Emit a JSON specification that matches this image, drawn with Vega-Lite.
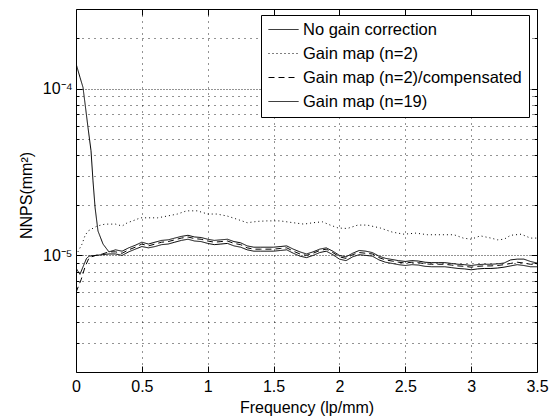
{
  "$schema": "https://vega.github.io/schema/vega-lite/v6.json",
  "width": 461,
  "height": 363,
  "autosize": {"type": "none"},
  "padding": {"left": 76, "top": 9, "right": 17, "bottom": 47},
  "background": "white",
  "config": {
    "view": {"stroke": "black", "strokeWidth": 1},
    "font": "Liberation Sans",
    "axis": {
      "labelFont": "Liberation Sans", "labelFontSize": 16, "labelColor": "black",
      "titleFont": "Liberation Sans", "titleFontSize": 16, "titleFontWeight": "normal", "titleColor": "black",
      "tickColor": "black", "tickWidth": 1, "domain": false,
      "gridColor": "black", "gridOpacity": 0.85, "gridWidth": 1,
      "labelFlush": false, "labelOverlap": false, "labelBound": false
    }
  },
  "datasets": {
    "nnps": [
      {"s": "No gain correction", "f": 0, "v": 1.414e-4},
      {"s": "No gain correction", "f": 0.03, "v": 1.17e-4},
      {"s": "No gain correction", "f": 0.053, "v": 1.018e-4},
      {"s": "No gain correction", "f": 0.068, "v": 8.2e-5},
      {"s": "No gain correction", "f": 0.091, "v": 5.85e-5},
      {"s": "No gain correction", "f": 0.114, "v": 4.24e-5},
      {"s": "No gain correction", "f": 0.129, "v": 2.8e-5},
      {"s": "No gain correction", "f": 0.145, "v": 1.93e-5},
      {"s": "No gain correction", "f": 0.167, "v": 1.4e-5},
      {"s": "No gain correction", "f": 0.205, "v": 1.17e-5},
      {"s": "No gain correction", "f": 0.25, "v": 1.05e-5},
      {"s": "No gain correction", "f": 0.3, "v": 1.08e-5},
      {"s": "No gain correction", "f": 0.35, "v": 1.06e-5},
      {"s": "No gain correction", "f": 0.4, "v": 1.11e-5},
      {"s": "No gain correction", "f": 0.45, "v": 1.15e-5},
      {"s": "No gain correction", "f": 0.5, "v": 1.2e-5},
      {"s": "No gain correction", "f": 0.55, "v": 1.17e-5},
      {"s": "No gain correction", "f": 0.6, "v": 1.2e-5},
      {"s": "No gain correction", "f": 0.65, "v": 1.23e-5},
      {"s": "No gain correction", "f": 0.7, "v": 1.24e-5},
      {"s": "No gain correction", "f": 0.75, "v": 1.27e-5},
      {"s": "No gain correction", "f": 0.8, "v": 1.3e-5},
      {"s": "No gain correction", "f": 0.85, "v": 1.32e-5},
      {"s": "No gain correction", "f": 0.9, "v": 1.29e-5},
      {"s": "No gain correction", "f": 0.95, "v": 1.28e-5},
      {"s": "No gain correction", "f": 1.0, "v": 1.25e-5},
      {"s": "No gain correction", "f": 1.05, "v": 1.23e-5},
      {"s": "No gain correction", "f": 1.1, "v": 1.24e-5},
      {"s": "No gain correction", "f": 1.15, "v": 1.25e-5},
      {"s": "No gain correction", "f": 1.2, "v": 1.21e-5},
      {"s": "No gain correction", "f": 1.25, "v": 1.19e-5},
      {"s": "No gain correction", "f": 1.3, "v": 1.14e-5},
      {"s": "No gain correction", "f": 1.35, "v": 1.12e-5},
      {"s": "No gain correction", "f": 1.4, "v": 1.12e-5},
      {"s": "No gain correction", "f": 1.45, "v": 1.12e-5},
      {"s": "No gain correction", "f": 1.5, "v": 1.12e-5},
      {"s": "No gain correction", "f": 1.55, "v": 1.13e-5},
      {"s": "No gain correction", "f": 1.6, "v": 1.14e-5},
      {"s": "No gain correction", "f": 1.65, "v": 1.09e-5},
      {"s": "No gain correction", "f": 1.7, "v": 1.05e-5},
      {"s": "No gain correction", "f": 1.75, "v": 1.02e-5},
      {"s": "No gain correction", "f": 1.8, "v": 1.05e-5},
      {"s": "No gain correction", "f": 1.85, "v": 1.09e-5},
      {"s": "No gain correction", "f": 1.9, "v": 1.11e-5},
      {"s": "No gain correction", "f": 1.95, "v": 1.06e-5},
      {"s": "No gain correction", "f": 2.0, "v": 1.0e-5},
      {"s": "No gain correction", "f": 2.05, "v": 0.98e-5},
      {"s": "No gain correction", "f": 2.1, "v": 1.03e-5},
      {"s": "No gain correction", "f": 2.15, "v": 1.07e-5},
      {"s": "No gain correction", "f": 2.2, "v": 1.06e-5},
      {"s": "No gain correction", "f": 2.25, "v": 1.04e-5},
      {"s": "No gain correction", "f": 2.3, "v": 0.99e-5},
      {"s": "No gain correction", "f": 2.35, "v": 0.96e-5},
      {"s": "No gain correction", "f": 2.4, "v": 0.945e-5},
      {"s": "No gain correction", "f": 2.45, "v": 0.93e-5},
      {"s": "No gain correction", "f": 2.5, "v": 0.92e-5},
      {"s": "No gain correction", "f": 2.55, "v": 0.93e-5},
      {"s": "No gain correction", "f": 2.6, "v": 0.925e-5},
      {"s": "No gain correction", "f": 2.65, "v": 0.91e-5},
      {"s": "No gain correction", "f": 2.7, "v": 0.905e-5},
      {"s": "No gain correction", "f": 2.75, "v": 0.905e-5},
      {"s": "No gain correction", "f": 2.8, "v": 0.905e-5},
      {"s": "No gain correction", "f": 2.85, "v": 0.895e-5},
      {"s": "No gain correction", "f": 2.9, "v": 0.885e-5},
      {"s": "No gain correction", "f": 2.95, "v": 0.88e-5},
      {"s": "No gain correction", "f": 3.0, "v": 0.87e-5},
      {"s": "No gain correction", "f": 3.05, "v": 0.88e-5},
      {"s": "No gain correction", "f": 3.1, "v": 0.885e-5},
      {"s": "No gain correction", "f": 3.15, "v": 0.885e-5},
      {"s": "No gain correction", "f": 3.2, "v": 0.89e-5},
      {"s": "No gain correction", "f": 3.25, "v": 0.9e-5},
      {"s": "No gain correction", "f": 3.3, "v": 0.94e-5},
      {"s": "No gain correction", "f": 3.35, "v": 0.95e-5},
      {"s": "No gain correction", "f": 3.4, "v": 0.95e-5},
      {"s": "No gain correction", "f": 3.45, "v": 0.92e-5},
      {"s": "No gain correction", "f": 3.5, "v": 0.9e-5},

      {"s": "Gain map (n=2)", "f": 0, "v": 1.0e-5},
      {"s": "Gain map (n=2)", "f": 0.046, "v": 1.17e-5},
      {"s": "Gain map (n=2)", "f": 0.068, "v": 1.31e-5},
      {"s": "Gain map (n=2)", "f": 0.091, "v": 1.4e-5},
      {"s": "Gain map (n=2)", "f": 0.16, "v": 1.5e-5},
      {"s": "Gain map (n=2)", "f": 0.22, "v": 1.54e-5},
      {"s": "Gain map (n=2)", "f": 0.3, "v": 1.54e-5},
      {"s": "Gain map (n=2)", "f": 0.35, "v": 1.5e-5},
      {"s": "Gain map (n=2)", "f": 0.39, "v": 1.57e-5},
      {"s": "Gain map (n=2)", "f": 0.43, "v": 1.61e-5},
      {"s": "Gain map (n=2)", "f": 0.49, "v": 1.68e-5},
      {"s": "Gain map (n=2)", "f": 0.54, "v": 1.68e-5},
      {"s": "Gain map (n=2)", "f": 0.62, "v": 1.68e-5},
      {"s": "Gain map (n=2)", "f": 0.69, "v": 1.72e-5},
      {"s": "Gain map (n=2)", "f": 0.77, "v": 1.77e-5},
      {"s": "Gain map (n=2)", "f": 0.84, "v": 1.85e-5},
      {"s": "Gain map (n=2)", "f": 0.92, "v": 1.85e-5},
      {"s": "Gain map (n=2)", "f": 1.0, "v": 1.77e-5},
      {"s": "Gain map (n=2)", "f": 1.07, "v": 1.77e-5},
      {"s": "Gain map (n=2)", "f": 1.15, "v": 1.72e-5},
      {"s": "Gain map (n=2)", "f": 1.22, "v": 1.65e-5},
      {"s": "Gain map (n=2)", "f": 1.3, "v": 1.57e-5},
      {"s": "Gain map (n=2)", "f": 1.38, "v": 1.6e-5},
      {"s": "Gain map (n=2)", "f": 1.45, "v": 1.61e-5},
      {"s": "Gain map (n=2)", "f": 1.55, "v": 1.61e-5},
      {"s": "Gain map (n=2)", "f": 1.65, "v": 1.57e-5},
      {"s": "Gain map (n=2)", "f": 1.73, "v": 1.54e-5},
      {"s": "Gain map (n=2)", "f": 1.8, "v": 1.57e-5},
      {"s": "Gain map (n=2)", "f": 1.87, "v": 1.59e-5},
      {"s": "Gain map (n=2)", "f": 1.93, "v": 1.52e-5},
      {"s": "Gain map (n=2)", "f": 1.99, "v": 1.46e-5},
      {"s": "Gain map (n=2)", "f": 2.06, "v": 1.45e-5},
      {"s": "Gain map (n=2)", "f": 2.14, "v": 1.52e-5},
      {"s": "Gain map (n=2)", "f": 2.21, "v": 1.52e-5},
      {"s": "Gain map (n=2)", "f": 2.31, "v": 1.46e-5},
      {"s": "Gain map (n=2)", "f": 2.4, "v": 1.38e-5},
      {"s": "Gain map (n=2)", "f": 2.49, "v": 1.34e-5},
      {"s": "Gain map (n=2)", "f": 2.58, "v": 1.36e-5},
      {"s": "Gain map (n=2)", "f": 2.67, "v": 1.33e-5},
      {"s": "Gain map (n=2)", "f": 2.77, "v": 1.33e-5},
      {"s": "Gain map (n=2)", "f": 2.87, "v": 1.33e-5},
      {"s": "Gain map (n=2)", "f": 2.94, "v": 1.27e-5},
      {"s": "Gain map (n=2)", "f": 3.0, "v": 1.25e-5},
      {"s": "Gain map (n=2)", "f": 3.07, "v": 1.31e-5},
      {"s": "Gain map (n=2)", "f": 3.15, "v": 1.27e-5},
      {"s": "Gain map (n=2)", "f": 3.2, "v": 1.24e-5},
      {"s": "Gain map (n=2)", "f": 3.25, "v": 1.25e-5},
      {"s": "Gain map (n=2)", "f": 3.3, "v": 1.32e-5},
      {"s": "Gain map (n=2)", "f": 3.38, "v": 1.34e-5},
      {"s": "Gain map (n=2)", "f": 3.45, "v": 1.27e-5},
      {"s": "Gain map (n=2)", "f": 3.5, "v": 1.27e-5},

      {"s": "Gain map (n=2)/compensated", "f": 0, "v": 0.6e-5},
      {"s": "Gain map (n=2)/compensated", "f": 0.04, "v": 0.72e-5},
      {"s": "Gain map (n=2)/compensated", "f": 0.07, "v": 0.86e-5},
      {"s": "Gain map (n=2)/compensated", "f": 0.1, "v": 0.97e-5},
      {"s": "Gain map (n=2)/compensated", "f": 0.15, "v": 1.0e-5},
      {"s": "Gain map (n=2)/compensated", "f": 0.2, "v": 1.02e-5},
      {"s": "Gain map (n=2)/compensated", "f": 0.25, "v": 1.05e-5},
      {"s": "Gain map (n=2)/compensated", "f": 0.3, "v": 1.05e-5},
      {"s": "Gain map (n=2)/compensated", "f": 0.35, "v": 1.03e-5},
      {"s": "Gain map (n=2)/compensated", "f": 0.4, "v": 1.08e-5},
      {"s": "Gain map (n=2)/compensated", "f": 0.45, "v": 1.12e-5},
      {"s": "Gain map (n=2)/compensated", "f": 0.5, "v": 1.17e-5},
      {"s": "Gain map (n=2)/compensated", "f": 0.55, "v": 1.14e-5},
      {"s": "Gain map (n=2)/compensated", "f": 0.6, "v": 1.17e-5},
      {"s": "Gain map (n=2)/compensated", "f": 0.65, "v": 1.2e-5},
      {"s": "Gain map (n=2)/compensated", "f": 0.7, "v": 1.21e-5},
      {"s": "Gain map (n=2)/compensated", "f": 0.75, "v": 1.24e-5},
      {"s": "Gain map (n=2)/compensated", "f": 0.8, "v": 1.27e-5},
      {"s": "Gain map (n=2)/compensated", "f": 0.85, "v": 1.29e-5},
      {"s": "Gain map (n=2)/compensated", "f": 0.9, "v": 1.26e-5},
      {"s": "Gain map (n=2)/compensated", "f": 0.95, "v": 1.25e-5},
      {"s": "Gain map (n=2)/compensated", "f": 1.0, "v": 1.22e-5},
      {"s": "Gain map (n=2)/compensated", "f": 1.05, "v": 1.2e-5},
      {"s": "Gain map (n=2)/compensated", "f": 1.1, "v": 1.21e-5},
      {"s": "Gain map (n=2)/compensated", "f": 1.15, "v": 1.22e-5},
      {"s": "Gain map (n=2)/compensated", "f": 1.2, "v": 1.18e-5},
      {"s": "Gain map (n=2)/compensated", "f": 1.25, "v": 1.16e-5},
      {"s": "Gain map (n=2)/compensated", "f": 1.3, "v": 1.11e-5},
      {"s": "Gain map (n=2)/compensated", "f": 1.35, "v": 1.09e-5},
      {"s": "Gain map (n=2)/compensated", "f": 1.4, "v": 1.09e-5},
      {"s": "Gain map (n=2)/compensated", "f": 1.45, "v": 1.09e-5},
      {"s": "Gain map (n=2)/compensated", "f": 1.5, "v": 1.09e-5},
      {"s": "Gain map (n=2)/compensated", "f": 1.55, "v": 1.1e-5},
      {"s": "Gain map (n=2)/compensated", "f": 1.6, "v": 1.11e-5},
      {"s": "Gain map (n=2)/compensated", "f": 1.65, "v": 1.06e-5},
      {"s": "Gain map (n=2)/compensated", "f": 1.7, "v": 1.02e-5},
      {"s": "Gain map (n=2)/compensated", "f": 1.75, "v": 1.0e-5},
      {"s": "Gain map (n=2)/compensated", "f": 1.8, "v": 1.03e-5},
      {"s": "Gain map (n=2)/compensated", "f": 1.85, "v": 1.07e-5},
      {"s": "Gain map (n=2)/compensated", "f": 1.9, "v": 1.09e-5},
      {"s": "Gain map (n=2)/compensated", "f": 1.95, "v": 1.04e-5},
      {"s": "Gain map (n=2)/compensated", "f": 2.0, "v": 0.98e-5},
      {"s": "Gain map (n=2)/compensated", "f": 2.05, "v": 0.96e-5},
      {"s": "Gain map (n=2)/compensated", "f": 2.1, "v": 1.01e-5},
      {"s": "Gain map (n=2)/compensated", "f": 2.15, "v": 1.04e-5},
      {"s": "Gain map (n=2)/compensated", "f": 2.2, "v": 1.03e-5},
      {"s": "Gain map (n=2)/compensated", "f": 2.25, "v": 1.02e-5},
      {"s": "Gain map (n=2)/compensated", "f": 2.3, "v": 0.97e-5},
      {"s": "Gain map (n=2)/compensated", "f": 2.35, "v": 0.94e-5},
      {"s": "Gain map (n=2)/compensated", "f": 2.4, "v": 0.925e-5},
      {"s": "Gain map (n=2)/compensated", "f": 2.45, "v": 0.91e-5},
      {"s": "Gain map (n=2)/compensated", "f": 2.5, "v": 0.9e-5},
      {"s": "Gain map (n=2)/compensated", "f": 2.55, "v": 0.91e-5},
      {"s": "Gain map (n=2)/compensated", "f": 2.6, "v": 0.905e-5},
      {"s": "Gain map (n=2)/compensated", "f": 2.65, "v": 0.89e-5},
      {"s": "Gain map (n=2)/compensated", "f": 2.7, "v": 0.885e-5},
      {"s": "Gain map (n=2)/compensated", "f": 2.75, "v": 0.885e-5},
      {"s": "Gain map (n=2)/compensated", "f": 2.8, "v": 0.885e-5},
      {"s": "Gain map (n=2)/compensated", "f": 2.85, "v": 0.875e-5},
      {"s": "Gain map (n=2)/compensated", "f": 2.9, "v": 0.865e-5},
      {"s": "Gain map (n=2)/compensated", "f": 2.95, "v": 0.86e-5},
      {"s": "Gain map (n=2)/compensated", "f": 3.0, "v": 0.85e-5},
      {"s": "Gain map (n=2)/compensated", "f": 3.05, "v": 0.86e-5},
      {"s": "Gain map (n=2)/compensated", "f": 3.1, "v": 0.865e-5},
      {"s": "Gain map (n=2)/compensated", "f": 3.15, "v": 0.865e-5},
      {"s": "Gain map (n=2)/compensated", "f": 3.2, "v": 0.87e-5},
      {"s": "Gain map (n=2)/compensated", "f": 3.25, "v": 0.88e-5},
      {"s": "Gain map (n=2)/compensated", "f": 3.3, "v": 0.895e-5},
      {"s": "Gain map (n=2)/compensated", "f": 3.35, "v": 0.91e-5},
      {"s": "Gain map (n=2)/compensated", "f": 3.4, "v": 0.9e-5},
      {"s": "Gain map (n=2)/compensated", "f": 3.45, "v": 0.885e-5},
      {"s": "Gain map (n=2)/compensated", "f": 3.5, "v": 0.885e-5},

      {"s": "Gain map (n=19)", "f": 0, "v": 0.84e-5},
      {"s": "Gain map (n=19)", "f": 0.03, "v": 0.77e-5},
      {"s": "Gain map (n=19)", "f": 0.06, "v": 0.88e-5},
      {"s": "Gain map (n=19)", "f": 0.08, "v": 0.96e-5},
      {"s": "Gain map (n=19)", "f": 0.1, "v": 0.99e-5},
      {"s": "Gain map (n=19)", "f": 0.15, "v": 1.0e-5},
      {"s": "Gain map (n=19)", "f": 0.2, "v": 1.01e-5},
      {"s": "Gain map (n=19)", "f": 0.25, "v": 1.02e-5},
      {"s": "Gain map (n=19)", "f": 0.3, "v": 1.02e-5},
      {"s": "Gain map (n=19)", "f": 0.35, "v": 1.0e-5},
      {"s": "Gain map (n=19)", "f": 0.4, "v": 1.05e-5},
      {"s": "Gain map (n=19)", "f": 0.45, "v": 1.09e-5},
      {"s": "Gain map (n=19)", "f": 0.5, "v": 1.13e-5},
      {"s": "Gain map (n=19)", "f": 0.55, "v": 1.11e-5},
      {"s": "Gain map (n=19)", "f": 0.6, "v": 1.13e-5},
      {"s": "Gain map (n=19)", "f": 0.65, "v": 1.16e-5},
      {"s": "Gain map (n=19)", "f": 0.7, "v": 1.17e-5},
      {"s": "Gain map (n=19)", "f": 0.75, "v": 1.2e-5},
      {"s": "Gain map (n=19)", "f": 0.8, "v": 1.23e-5},
      {"s": "Gain map (n=19)", "f": 0.85, "v": 1.25e-5},
      {"s": "Gain map (n=19)", "f": 0.9, "v": 1.22e-5},
      {"s": "Gain map (n=19)", "f": 0.95, "v": 1.21e-5},
      {"s": "Gain map (n=19)", "f": 1.0, "v": 1.18e-5},
      {"s": "Gain map (n=19)", "f": 1.05, "v": 1.16e-5},
      {"s": "Gain map (n=19)", "f": 1.1, "v": 1.17e-5},
      {"s": "Gain map (n=19)", "f": 1.15, "v": 1.18e-5},
      {"s": "Gain map (n=19)", "f": 1.2, "v": 1.14e-5},
      {"s": "Gain map (n=19)", "f": 1.25, "v": 1.12e-5},
      {"s": "Gain map (n=19)", "f": 1.3, "v": 1.08e-5},
      {"s": "Gain map (n=19)", "f": 1.35, "v": 1.06e-5},
      {"s": "Gain map (n=19)", "f": 1.4, "v": 1.06e-5},
      {"s": "Gain map (n=19)", "f": 1.45, "v": 1.06e-5},
      {"s": "Gain map (n=19)", "f": 1.5, "v": 1.06e-5},
      {"s": "Gain map (n=19)", "f": 1.55, "v": 1.07e-5},
      {"s": "Gain map (n=19)", "f": 1.6, "v": 1.08e-5},
      {"s": "Gain map (n=19)", "f": 1.65, "v": 1.03e-5},
      {"s": "Gain map (n=19)", "f": 1.7, "v": 0.99e-5},
      {"s": "Gain map (n=19)", "f": 1.75, "v": 0.97e-5},
      {"s": "Gain map (n=19)", "f": 1.8, "v": 1.0e-5},
      {"s": "Gain map (n=19)", "f": 1.85, "v": 1.04e-5},
      {"s": "Gain map (n=19)", "f": 1.9, "v": 1.06e-5},
      {"s": "Gain map (n=19)", "f": 1.95, "v": 1.01e-5},
      {"s": "Gain map (n=19)", "f": 2.0, "v": 0.95e-5},
      {"s": "Gain map (n=19)", "f": 2.05, "v": 0.93e-5},
      {"s": "Gain map (n=19)", "f": 2.1, "v": 0.98e-5},
      {"s": "Gain map (n=19)", "f": 2.15, "v": 1.01e-5},
      {"s": "Gain map (n=19)", "f": 2.2, "v": 1.0e-5},
      {"s": "Gain map (n=19)", "f": 2.25, "v": 0.99e-5},
      {"s": "Gain map (n=19)", "f": 2.3, "v": 0.94e-5},
      {"s": "Gain map (n=19)", "f": 2.35, "v": 0.91e-5},
      {"s": "Gain map (n=19)", "f": 2.4, "v": 0.895e-5},
      {"s": "Gain map (n=19)", "f": 2.45, "v": 0.88e-5},
      {"s": "Gain map (n=19)", "f": 2.5, "v": 0.87e-5},
      {"s": "Gain map (n=19)", "f": 2.55, "v": 0.88e-5},
      {"s": "Gain map (n=19)", "f": 2.6, "v": 0.875e-5},
      {"s": "Gain map (n=19)", "f": 2.65, "v": 0.86e-5},
      {"s": "Gain map (n=19)", "f": 2.7, "v": 0.855e-5},
      {"s": "Gain map (n=19)", "f": 2.75, "v": 0.855e-5},
      {"s": "Gain map (n=19)", "f": 2.8, "v": 0.855e-5},
      {"s": "Gain map (n=19)", "f": 2.85, "v": 0.845e-5},
      {"s": "Gain map (n=19)", "f": 2.9, "v": 0.835e-5},
      {"s": "Gain map (n=19)", "f": 2.95, "v": 0.83e-5},
      {"s": "Gain map (n=19)", "f": 3.0, "v": 0.82e-5},
      {"s": "Gain map (n=19)", "f": 3.05, "v": 0.83e-5},
      {"s": "Gain map (n=19)", "f": 3.1, "v": 0.835e-5},
      {"s": "Gain map (n=19)", "f": 3.15, "v": 0.835e-5},
      {"s": "Gain map (n=19)", "f": 3.2, "v": 0.84e-5},
      {"s": "Gain map (n=19)", "f": 3.25, "v": 0.85e-5},
      {"s": "Gain map (n=19)", "f": 3.3, "v": 0.865e-5},
      {"s": "Gain map (n=19)", "f": 3.35, "v": 0.88e-5},
      {"s": "Gain map (n=19)", "f": 3.4, "v": 0.87e-5},
      {"s": "Gain map (n=19)", "f": 3.45, "v": 0.855e-5},
      {"s": "Gain map (n=19)", "f": 3.5, "v": 0.855e-5}
    ]
  },
  "data": {"name": "nnps"},
  "layer": [
    {
      "mark": {"type": "line", "color": "black", "strokeWidth": 1, "clip": true},
      "encoding": {
        "x": {
          "field": "f", "type": "quantitative",
          "scale": {"domain": [0, 3.5], "nice": false, "zero": false},
          "axis": {
            "orient": "bottom",
            "values": [0, 0.5, 1, 1.5, 2, 2.5, 3, 3.5],
            "labelExpr": "'' + datum.value",
            "tickSize": -6, "labelPadding": 12,
            "grid": true, "gridDash": [1, 5],
            "title": "Frequency (lp/mm)", "titlePadding": 5
          }
        },
        "y": {
          "field": "v", "type": "quantitative",
          "scale": {"type": "log", "domain": [0.000002, 0.0003], "nice": false},
          "axis": {
            "orient": "left",
            "values": [0.000003, 0.000004, 0.000005, 0.000006, 0.000007, 0.000008, 0.000009, 0.00001, 0.00002, 0.00003, 0.00004, 0.00005, 0.00006, 0.00007, 0.00008, 0.00009, 0.0001, 0.0002],
            "labelExpr": "datum.value == 0.00001 ? '10⁻⁵' : (datum.value == 0.0001 ? '10⁻⁴' : '')",
            "tickSize": {"condition": {"test": "datum.value == 0.00001 || datum.value == 0.0001", "value": -6}, "value": -3},
            "labelPadding": 10,
            "grid": true,
            "gridDash": {"condition": {"test": "datum.value == 0.00001 || datum.value == 0.0001", "value": [1, 2]}, "value": [1, 5]},
            "title": "NNPS(mm²)", "titlePadding": 8, "titleY": 186
          }
        },
        "strokeDash": {
          "field": "s", "type": "nominal",
          "scale": {
            "domain": ["No gain correction", "Gain map (n=2)", "Gain map (n=2)/compensated", "Gain map (n=19)"],
            "range": [[1, 0], [1, 3], [6, 4], [1, 0]]
          },
          "legend": {
            "orient": "none", "legendX": 185, "legendY": 6,
            "title": null,
            "symbolType": "stroke", "symbolSize": 900, "symbolStrokeWidth": 1, "symbolStrokeColor": "black",
            "labelFont": "Liberation Sans", "labelFontSize": 16.5, "labelColor": "black", "labelOffset": 4,
            "labelLimit": 400,
            "strokeColor": "black", "fillColor": "white", "padding": 7,
            "rowPadding": 7, "clipHeight": 15
          }
        }
      }
    },
    {
      "mark": {"type": "line", "color": "black", "strokeOpacity": 0},
      "encoding": {
        "x": {
          "field": "f", "type": "quantitative",
          "scale": {"domain": [0, 3.5], "nice": false, "zero": false},
          "axis": {
            "orient": "top",
            "values": [0.5, 1, 1.5, 2, 2.5, 3],
            "labels": false, "tickSize": -6, "grid": false, "title": null
          }
        },
        "y": {
          "field": "v", "type": "quantitative",
          "scale": {"type": "log", "domain": [0.000002, 0.0003], "nice": false},
          "axis": {
            "orient": "right",
            "values": [0.000003, 0.000004, 0.000005, 0.000006, 0.000007, 0.000008, 0.000009, 0.00001, 0.00002, 0.00003, 0.00004, 0.00005, 0.00006, 0.00007, 0.00008, 0.00009, 0.0001, 0.0002],
            "labels": false,
            "tickSize": {"condition": {"test": "datum.value == 0.00001 || datum.value == 0.0001", "value": -6}, "value": -3},
            "grid": false, "title": null
          }
        },
        "detail": {"field": "s", "type": "nominal"}
      }
    }
  ],
  "resolve": {"axis": {"x": "independent", "y": "independent"}}
}
